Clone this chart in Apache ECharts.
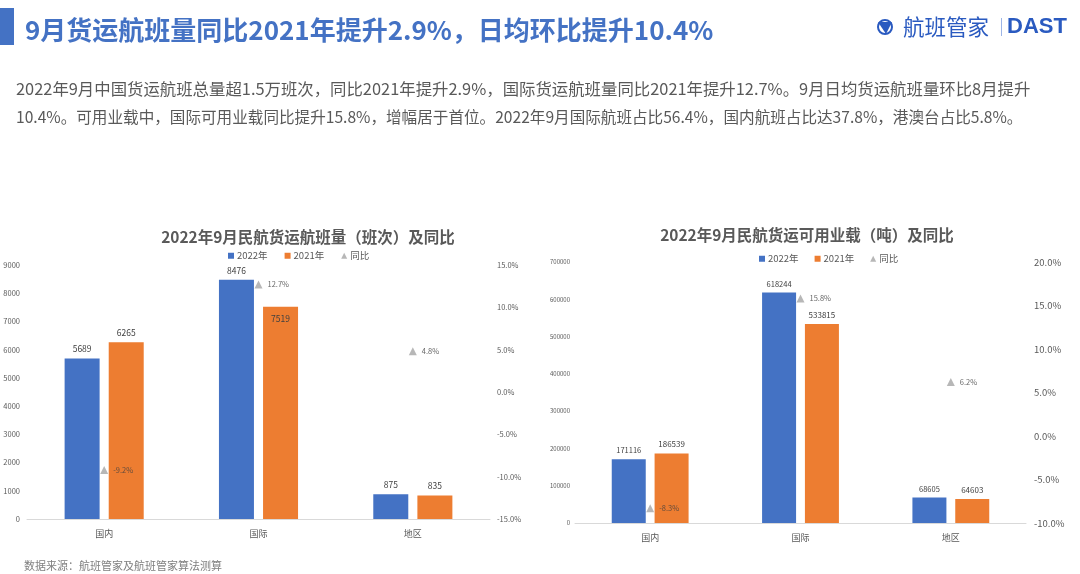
<!DOCTYPE html>
<html><head><meta charset="utf-8">
<script src="https://cdn.jsdelivr.net/npm/echarts@6/dist/echarts.min.js"></script>
<style>html,body{margin:0;padding:0;background:#fff}#c{width:1080px;height:574px}</style>
</head><body><div id="c"></div>
<script>
// ---- data ----
const categories = ['国内', '国际', '地区'];
const flights2022 = [5689, 8476, 875];
const flights2021 = [6265, 7519, 835];
const flightsYoY = [-9.2, 12.7, 4.8];
const capacity2022 = [171116, 618244, 68605];
const capacity2021 = [186539, 533815, 64603];
const capacityYoY = [-8.3, 15.8, 6.2];
const seriesNames = ['2022年', '2021年', '同比'];

const headline = '9月货运航班量同比2021年提升2.9%，日均环比提升10.4%';
const para1 = '2022年9月中国货运航班总量超1.5万班次，同比2021年提升2.9%，国际货运航班量同比2021年提升12.7%。9月日均货运航班量环比8月提升';
const para2 = '10.4%。可用业载中，国际可用业载同比提升15.8%，增幅居于首位。2022年9月国际航班占比56.4%，国内航班占比达37.8%，港澳台占比5.8%。';
const leftTitle = '2022年9月民航货运航班量（班次）及同比';
const rightTitle = '2022年9月民航货运可用业载（吨）及同比';
const sourceNote = '数据来源：航班管家及航班管家算法测算';

// ---- styling ----
const F = '"Noto Sans CJK SC", "Noto Sans", sans-serif';
const BLUE = '#4472C4', ORANGE = '#ED7D31', GRAY = '#A5A5A5', TXT = '#595959';

const chart = echarts.init(document.getElementById('c'), null, {renderer: 'canvas'});

function legend(left, top, gap) {
  return {
    left: left, top: top, itemWidth: 6, itemHeight: 6, itemGap: gap,
    textStyle: {fontFamily: F, fontSize: 9.5, color: TXT, padding: [0, 0, 0, -2]},
    data: [{name: seriesNames[0], icon: 'rect'}, {name: seriesNames[1], icon: 'rect'}, {name: seriesNames[2], icon: 'triangle'}]
  };
}
function pct(v) { return v.toFixed(1) + '%'; }
function plain(v) { return String(v); }

const option = {
  backgroundColor: '#fff',
  animation: false,
  textStyle: {fontFamily: F},
  title: [
    {text: leftTitle, left: 303, top: 224, textAlign: 'center', textStyle: {fontFamily: F, fontSize: 15.5, fontWeight: 'bold', color: TXT}},
    {text: rightTitle, left: 802, top: 222, textAlign: 'center', textStyle: {fontFamily: F, fontSize: 15.5, fontWeight: 'bold', color: TXT}}
  ],
  legend: [legend(223, 246, 17), legend(754, 249, 16)],
  grid: [
    {left: 27, right: 590, top: 265, bottom: 55},
    {left: 575, right: 54, top: 262, bottom: 51}
  ],
  xAxis: [
    {type: 'category', gridIndex: 0, data: categories, axisTick: {show: false},
     axisLine: {lineStyle: {color: '#D9D9D9'}}, axisLabel: {fontSize: 9, color: TXT, margin: 10}},
    {type: 'category', gridIndex: 1, data: categories, axisTick: {show: false},
     axisLine: {lineStyle: {color: '#D9D9D9'}}, axisLabel: {fontSize: 9, color: TXT, margin: 10}}
  ],
  yAxis: [
    {type: 'value', gridIndex: 0, min: 0, max: 9000, interval: 1000, splitLine: {show: false},
     axisLabel: {fontSize: 7.5, color: TXT, margin: 7, formatter: plain}},
    {type: 'value', gridIndex: 0, min: -15, max: 15, interval: 5, splitLine: {show: false}, position: 'right',
     axisLabel: {fontSize: 7.5, color: TXT, margin: 7, formatter: pct}},
    {type: 'value', gridIndex: 1, min: 0, max: 700000, interval: 100000, splitLine: {show: false},
     axisLabel: {fontSize: 6, color: TXT, margin: 5, formatter: plain}},
    {type: 'value', gridIndex: 1, min: -10, max: 20, interval: 5, splitLine: {show: false}, position: 'right',
     axisLabel: {fontSize: 9.5, color: TXT, margin: 8, formatter: pct}}
  ],
  series: [
    {name: seriesNames[0], type: 'bar', xAxisIndex: 0, yAxisIndex: 0, data: flights2022, barWidth: 35, barGap: '26%',
     itemStyle: {color: BLUE}, label: {show: true, position: 'top', distance: 5, fontSize: 8.5, color: '#404040'}},
    {name: seriesNames[1], type: 'bar', xAxisIndex: 0, yAxisIndex: 0,
     data: flights2021.map((v, i) => i === 1 ? {value: v, label: {position: 'insideTop', distance: 8}} : v),
     barWidth: 35, barGap: '26%',
     itemStyle: {color: ORANGE}, label: {show: true, position: 'top', distance: 5, fontSize: 8.5, color: '#404040'}},
    {name: seriesNames[2], type: 'scatter', xAxisIndex: 0, yAxisIndex: 1, data: flightsYoY, symbol: 'triangle', symbolSize: 8,
     itemStyle: {color: GRAY}, label: {show: true, position: 'right', distance: 5, fontSize: 7.5, color: '#404040', formatter: p => pct(p.value)}},
    {name: seriesNames[0], type: 'bar', xAxisIndex: 1, yAxisIndex: 2, data: capacity2022, barWidth: 34, barGap: '26%',
     itemStyle: {color: BLUE}, label: {show: true, position: 'top', distance: 5, fontSize: 7.5, color: '#404040'}},
    {name: seriesNames[1], type: 'bar', xAxisIndex: 1, yAxisIndex: 2, data: capacity2021, barWidth: 34, barGap: '26%',
     itemStyle: {color: ORANGE}, label: {show: true, position: 'top', distance: 5, fontSize: 8, color: '#404040'}},
    {name: seriesNames[2], type: 'scatter', xAxisIndex: 1, yAxisIndex: 3, data: capacityYoY, symbol: 'triangle', symbolSize: 8,
     itemStyle: {color: GRAY}, label: {show: true, position: 'right', distance: 5, fontSize: 7.5, color: '#404040', formatter: p => pct(p.value)}}
  ],
  graphic: [
    {type: 'rect', shape: {x: 0, y: 8, width: 14, height: 37}, style: {fill: BLUE}},
    {type: 'text', x: 25, y: 30, style: {text: headline, fill: BLUE, font: 'bold 26px ' + F, textVerticalAlign: 'middle'}},
    // logo
    {type: 'circle', shape: {cx: 885, cy: 27, r: 7}, style: {fill: 'none', stroke: '#2A5AC0', lineWidth: 2}},
    {type: 'polygon', shape: {points: [[878, 22], [892, 22], [886, 34]]}, style: {fill: '#2A5AC0'}},
    {type: 'text', x: 903, y: 27, style: {text: '航班管家', fill: '#2A5AC0', font: '21.5px ' + F, textVerticalAlign: 'middle'}},
    {type: 'rect', shape: {x: 1001, y: 18, width: 1, height: 18}, style: {fill: '#9DB5E6'}},
    {type: 'text', x: 1007, y: 27, style: {text: 'DAST', fill: '#2A5AC0', font: 'bold 22px "Liberation Sans", Arial, sans-serif', textVerticalAlign: 'middle'}},
    // paragraph
    {type: 'text', x: 16, y: 89, style: {text: para1, fill: TXT, font: '16.4px ' + F, textVerticalAlign: 'middle'}},
    {type: 'text', x: 16, y: 117, style: {text: para2, fill: TXT, font: '15.6px ' + F, textVerticalAlign: 'middle'}},
    {type: 'text', x: 24, y: 566, style: {text: sourceNote, fill: '#7F7F7F', font: '11px ' + F, textVerticalAlign: 'middle'}}
  ]
};
chart.setOption(option);
</script></body></html>
